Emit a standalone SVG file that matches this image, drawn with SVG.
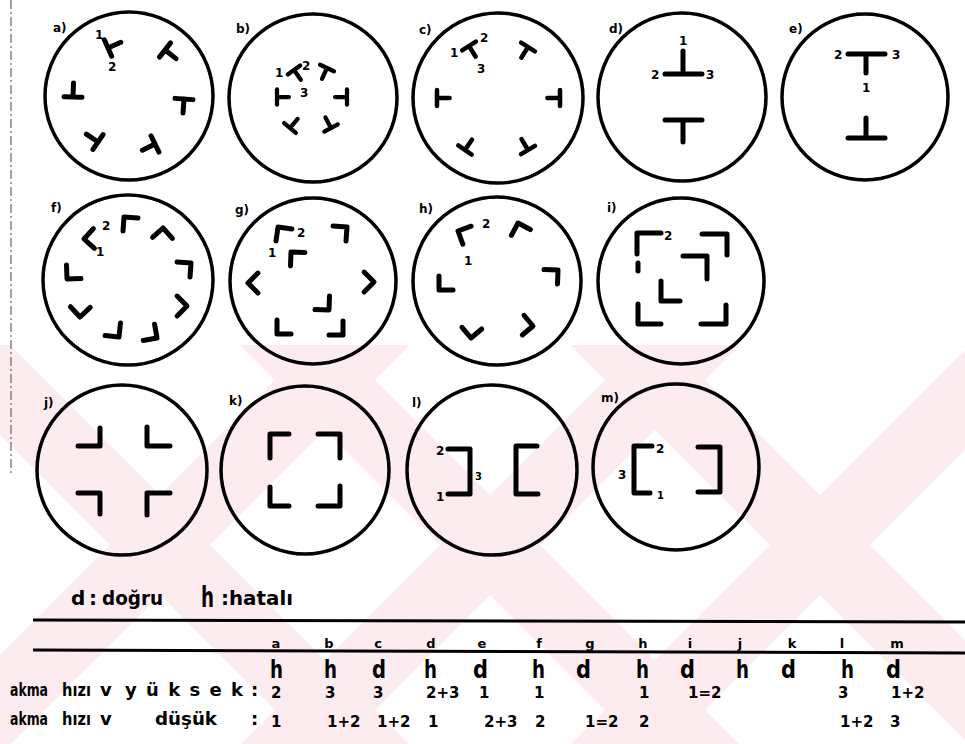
<svg xmlns="http://www.w3.org/2000/svg" xmlns:xlink="http://www.w3.org/1999/xlink" width="965" height="744" viewBox="0 0 965 744">
<style>
.c{fill:none;stroke:#000;stroke-width:3.5}
.s{fill:none;stroke:#000;stroke-width:5;stroke-linecap:round;stroke-linejoin:round}
.t{font-family:"DejaVu Sans","Liberation Sans",sans-serif;font-weight:bold;fill:#000}
.lb{font-size:12px}
.n{font-size:12px}
.v{font-size:15px}
.col{font-size:13px;text-anchor:middle}
.hd{font-size:25px}
.wm{fill:#fdecef}
</style>
<defs>
<path id="tee" d="M-9,0H9M0,0V14"/>
<path id="cor" d="M-14,0H0V14"/>
<clipPath id="wmclip"><rect x="0" y="345" width="965" height="399"/></clipPath>
</defs>
<rect width="965" height="744" fill="#fff"/>
<g id="watermark" clip-path="url(#wmclip)">
<polygon class="wm" points="-90,345 10,345 410,745 310,745"/>
<polygon class="wm" points="310,345 410,345 10,745 -90,745"/>
<polygon class="wm" points="240,345 340,345 740,745 640,745"/>
<polygon class="wm" points="640,345 740,345 340,745 240,745"/>
<polygon class="wm" points="570,345 670,345 1070,745 970,745"/>
<polygon class="wm" points="970,345 1070,345 670,745 570,745"/>
</g>
<line x1="11" y1="0" x2="11" y2="475" stroke="#444" stroke-width="1" stroke-dasharray="9 3 2 3"/>

<g id="node-a">
<circle class="c" cx="129" cy="96" r="84"/>
<text class="t lb" x="53" y="32">a)</text>
<use xlink:href="#tee" class="s" transform="translate(108,48) rotate(-114)"/>
<use xlink:href="#tee" class="s" transform="translate(165,50) rotate(-52)"/>
<use xlink:href="#tee" class="s" transform="translate(73,97) rotate(182)"/>
<use xlink:href="#tee" class="s" transform="translate(184,99) rotate(4)"/>
<use xlink:href="#tee" class="s" transform="translate(98,142) rotate(124)"/>
<use xlink:href="#tee" class="s" transform="translate(155,144) rotate(64)"/>
<text class="t n" x="95" y="39">1</text>
<text class="t n" x="108" y="71">2</text>
</g>

<g id="node-b">
<circle class="c" cx="313" cy="98" r="84"/>
<text class="t lb" x="236" y="33">b)</text>
<g transform="translate(294,70) rotate(-35) scale(0.85)"><use xlink:href="#tee" class="s"/></g>
<g transform="translate(327,68) rotate(25) scale(0.85)"><use xlink:href="#tee" class="s"/></g>
<g transform="translate(277,97) rotate(270) scale(0.85)"><use xlink:href="#tee" class="s"/></g>
<g transform="translate(347,97) rotate(90) scale(0.85)"><use xlink:href="#tee" class="s"/></g>
<g transform="translate(290,128) rotate(220) scale(0.85)"><use xlink:href="#tee" class="s"/></g>
<g transform="translate(331,128) rotate(152) scale(0.85)"><use xlink:href="#tee" class="s"/></g>
<text class="t n" x="275" y="77">1</text>
<text class="t n" x="302" y="70">2</text>
<text class="t n" x="300" y="97">3</text>
</g>

<g id="node-c">
<circle class="c" cx="498" cy="98" r="85"/>
<text class="t lb" x="419" y="34">c)</text>
<g transform="translate(469,46) rotate(-32) scale(0.9)"><use xlink:href="#tee" class="s"/></g>
<g transform="translate(528,47) rotate(32) scale(0.9)"><use xlink:href="#tee" class="s"/></g>
<g transform="translate(437,98) rotate(270) scale(0.9)"><use xlink:href="#tee" class="s"/></g>
<g transform="translate(560,98) rotate(90) scale(0.9)"><use xlink:href="#tee" class="s"/></g>
<g transform="translate(465,150) rotate(214) scale(0.9)"><use xlink:href="#tee" class="s"/></g>
<g transform="translate(528,150) rotate(149) scale(0.9)"><use xlink:href="#tee" class="s"/></g>
<text class="t n" x="450" y="57">1</text>
<text class="t n" x="480" y="42">2</text>
<text class="t n" x="477" y="73">3</text>
</g>

<g id="node-d">
<circle class="c" cx="682" cy="97" r="84"/>
<text class="t lb" x="609" y="33">d)</text>
<path class="s" d="M683,51V74M665,74H702M665,120H702M683,120V142"/>
<text class="t n" x="679" y="45">1</text>
<text class="t n" x="651" y="79">2</text>
<text class="t n" x="706" y="79">3</text>
</g>

<g id="node-e">
<circle class="c" cx="865" cy="97" r="83"/>
<text class="t lb" x="789" y="33">e)</text>
<path class="s" d="M848,54H885M866,54V73M866,118V138M848,138H885"/>
<text class="t n" x="834" y="59">2</text>
<text class="t n" x="892" y="59">3</text>
<text class="t n" x="862" y="92">1</text>
</g>

<g id="node-f">
<circle class="c" cx="128" cy="280" r="85"/>
<text class="t lb" x="51" y="212">f)</text>
<use xlink:href="#cor" class="s" transform="translate(84,239) rotate(222)"/>
<use xlink:href="#cor" class="s" transform="translate(124,217) rotate(-86)"/>
<use xlink:href="#cor" class="s" transform="translate(163,228) rotate(-42)"/>
<use xlink:href="#cor" class="s" transform="translate(191,263) rotate(4)"/>
<use xlink:href="#cor" class="s" transform="translate(187,306) rotate(45)"/>
<use xlink:href="#cor" class="s" transform="translate(157,338) rotate(80)"/>
<use xlink:href="#cor" class="s" transform="translate(119,337) rotate(96)"/>
<use xlink:href="#cor" class="s" transform="translate(80,317) rotate(137)"/>
<use xlink:href="#cor" class="s" transform="translate(67,279) rotate(178)"/>
<text class="t n" x="102" y="230">2</text>
<text class="t n" x="96" y="256">1</text>
</g>

<g id="node-g">
<circle class="c" cx="313" cy="281" r="83"/>
<text class="t lb" x="235" y="214">g)</text>
<use xlink:href="#cor" class="s" transform="translate(278,227) rotate(-82)"/>
<use xlink:href="#cor" class="s" transform="translate(347,227) rotate(4)"/>
<use xlink:href="#cor" class="s" transform="translate(291,252) rotate(-88)"/>
<use xlink:href="#cor" class="s" transform="translate(248,283) rotate(225)"/>
<use xlink:href="#cor" class="s" transform="translate(374,282) rotate(45)"/>
<use xlink:href="#cor" class="s" transform="translate(329,310) rotate(92)"/>
<use xlink:href="#cor" class="s" transform="translate(277,334) rotate(180)"/>
<use xlink:href="#cor" class="s" transform="translate(343,335) rotate(90)"/>
<text class="t n" x="297" y="237">2</text>
<text class="t n" x="268" y="257">1</text>
</g>

<g id="node-h">
<circle class="c" cx="497" cy="281" r="84"/>
<text class="t lb" x="419" y="213">h)</text>
<use xlink:href="#cor" class="s" transform="translate(458,231) rotate(-110)"/>
<use xlink:href="#cor" class="s" transform="translate(518,223) rotate(-62)"/>
<use xlink:href="#cor" class="s" transform="translate(558,270) rotate(2)"/>
<use xlink:href="#cor" class="s" transform="translate(533,326) rotate(50)"/>
<use xlink:href="#cor" class="s" transform="translate(471,338) rotate(140)"/>
<use xlink:href="#cor" class="s" transform="translate(439,290) rotate(180)"/>
<text class="t n" x="482" y="228">2</text>
<text class="t n" x="464" y="265">1</text>
</g>

<g id="node-i">
<circle class="c" cx="681" cy="281" r="83"/>
<text class="t lb" x="607" y="212">i)</text>
<path class="s" d="M661,233H637V254M702,234H727V255M683,256H707V279M661,281V301H680M638,304V324H661M726,305V324H701"/>
<path class="s" d="M638,263V271"/>
<text class="t n" x="664" y="240">2</text>
</g>

<g id="node-j">
<circle class="c" cx="122" cy="470" r="85"/>
<text class="t lb" x="44" y="407">j)</text>
<path class="s" d="M100,428V446H78M147,427V446H170M78,493H100V514M147,515V493H170"/>
</g>

<g id="node-k">
<circle class="c" cx="305" cy="470" r="84"/>
<text class="t lb" x="229" y="405">k)</text>
<path class="s" d="M270,458V434H289M318,434H340V458M270,487V506H289M340,486V506H318"/>
</g>

<g id="node-l">
<circle class="c" cx="492" cy="470" r="85"/>
<text class="t lb" x="412" y="407">l)</text>
<path class="s" d="M448,449H470V494H448M537,446H516V494H538"/>
<text class="t n" x="436" y="455">2</text>
<text class="t n" x="436" y="501">1</text>
<text class="t n" x="475" y="480" style="font-size:10px">3</text>
</g>

<g id="node-m">
<circle class="c" cx="676" cy="467" r="83"/>
<text class="t lb" x="601" y="402">m)</text>
<path class="s" d="M652,446H634V493H650M698,447H720V492H698"/>
<text class="t n" x="656" y="453">2</text>
<text class="t" x="657" y="499" style="font-size:10px">1</text>
<text class="t n" x="618" y="479">3</text>
</g>

<g id="legend">
<text class="t" x="71" y="605" style="font-size:20px">d</text>
<text class="t" x="89" y="605" style="font-size:20px">:</text>
<text class="t" x="102" y="605" style="font-size:20px" textLength="61" lengthAdjust="spacingAndGlyphs">doğru</text>
<text class="t" x="201" y="607" style="font-size:28px" textLength="13" lengthAdjust="spacingAndGlyphs">h</text>
<text class="t" x="221" y="605" style="font-size:20px">:</text>
<text class="t" x="229" y="605" style="font-size:20px" textLength="64" lengthAdjust="spacingAndGlyphs">hatalı</text>
</g>

<g id="connectors">
<path d="M33,620L965,622M33,650L965,653" fill="none" stroke="#000" stroke-width="3"/>
</g>

<g id="table">
<g class="t col">
<text x="276" y="648">a</text><text x="329" y="648">b</text><text x="378" y="648">c</text><text x="431" y="648">d</text><text x="482" y="648">e</text><text x="539" y="648">f</text><text x="590" y="648">g</text><text x="643" y="648">h</text><text x="690" y="648">i</text><text x="740" y="648">j</text><text x="792" y="648">k</text><text x="842" y="648">l</text><text x="897" y="648">m</text>
</g>
<g class="t hd">
<text x="270" y="678" textLength="13" lengthAdjust="spacingAndGlyphs">h</text>
<text x="324" y="678" textLength="13" lengthAdjust="spacingAndGlyphs">h</text>
<text x="372" y="678" textLength="14" lengthAdjust="spacingAndGlyphs">d</text>
<text x="424" y="678" textLength="13" lengthAdjust="spacingAndGlyphs">h</text>
<text x="473" y="678" textLength="15" lengthAdjust="spacingAndGlyphs">d</text>
<text x="532" y="678" textLength="13" lengthAdjust="spacingAndGlyphs">h</text>
<text x="576" y="678" textLength="15" lengthAdjust="spacingAndGlyphs">d</text>
<text x="636" y="678" textLength="13" lengthAdjust="spacingAndGlyphs">h</text>
<text x="680" y="678" textLength="15" lengthAdjust="spacingAndGlyphs">d</text>
<text x="736" y="678" textLength="13" lengthAdjust="spacingAndGlyphs">h</text>
<text x="781" y="678" textLength="15" lengthAdjust="spacingAndGlyphs">d</text>
<text x="841" y="678" textLength="13" lengthAdjust="spacingAndGlyphs">h</text>
<text x="886" y="678" textLength="15" lengthAdjust="spacingAndGlyphs">d</text>
</g>
<g class="t" style="font-size:18px">
<text x="10" y="696" textLength="38" lengthAdjust="spacingAndGlyphs">akma</text>
<text x="62" y="696" textLength="29" lengthAdjust="spacingAndGlyphs">hızı</text>
<text x="100" y="696">v</text>
<text x="125" y="696" textLength="118" lengthAdjust="spacing">yüksek</text>
<text x="251" y="696">:</text>
<text x="10" y="725" textLength="38" lengthAdjust="spacingAndGlyphs">akma</text>
<text x="62" y="725" textLength="29" lengthAdjust="spacingAndGlyphs">hızı</text>
<text x="100" y="725">v</text>
<text x="155" y="725" textLength="62" lengthAdjust="spacingAndGlyphs">düşük</text>
<text x="251" y="725">:</text>
</g>
<g class="t v">
<text x="271" y="698">2</text>
<text x="325" y="698">3</text>
<text x="373" y="698">3</text>
<text x="426" y="698">2+3</text>
<text x="479" y="698">1</text>
<text x="534" y="698">1</text>
<text x="639" y="698">1</text>
<text x="688" y="698">1=2</text>
<text x="838" y="698">3</text>
<text x="891" y="698">1+2</text>
<text x="271" y="727">1</text>
<text x="327" y="727">1+2</text>
<text x="377" y="727">1+2</text>
<text x="428" y="727">1</text>
<text x="484" y="727">2+3</text>
<text x="535" y="727">2</text>
<text x="585" y="727">1=2</text>
<text x="639" y="727">2</text>
<text x="840" y="727">1+2</text>
<text x="890" y="727">3</text>
</g>
</g>
</svg>
